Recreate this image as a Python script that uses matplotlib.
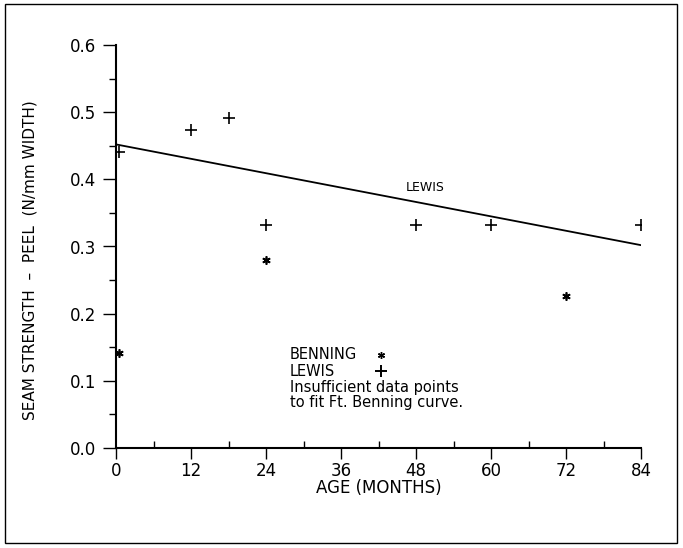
import matplotlib
matplotlib.use("Agg")
import matplotlib.pyplot as plt
from matplotlib.patches import Rectangle

# data
lewis_age = [0.5, 12, 18, 24, 48, 60, 84]
lewis_peel = [0.440, 0.474, 0.492, 0.332, 0.332, 0.332, 0.332]
benning_age = [0.5, 24, 72]
benning_peel = [0.141, 0.280, 0.226]
fit_age = [0, 84]
fit_peel = [0.452, 0.302]

x_ticks = [0, 12, 24, 36, 48, 60, 72, 84]
y_ticks = [0.0, 0.1, 0.2, 0.3, 0.4, 0.5, 0.6]

plt.rcParams["font.family"] = "DejaVu Sans"

fig = plt.figure(figsize=(6.83, 5.48), dpi=100)
ax = fig.add_axes([116 / 683, 1 - 448 / 548, 525 / 683, 403 / 548])

# outer frame of the figure
fig.patches.append(Rectangle((5 / 683, 5 / 548), 672 / 683, 539 / 548,
                             transform=fig.transFigure, fill=False,
                             edgecolor="black", linewidth=1.0))

ax.plot(fit_age, fit_peel, color="black", linewidth=1.3)
ax.plot(lewis_age, lewis_peel, linestyle="none", marker="+",
        markersize=8, markeredgewidth=1.2, color="black")
ax.plot(benning_age, benning_peel, linestyle="none", marker=(6, 2, 0),
        markersize=6, markeredgewidth=1.2, color="black")

ax.text(46.3, 0.388, "LEWIS", fontsize=9, ha="left", va="center")

# key and note
key_size = 10.5
ax.text(0.331, 0.231, "BENNING", transform=ax.transAxes, fontsize=key_size, va="center")
ax.text(0.331, 0.191, "LEWIS", transform=ax.transAxes, fontsize=key_size, va="center")
ax.plot([0.505], [0.231], transform=ax.transAxes, marker=(6, 2, 0),
        markersize=5, markeredgewidth=1.0, color="black", linestyle="none")
ax.plot([0.505], [0.191], transform=ax.transAxes, marker="+",
        markersize=8, markeredgewidth=1.4, color="black", linestyle="none")
ax.text(0.331, 0.151, "Insufficient data points", transform=ax.transAxes,
        fontsize=key_size, va="center")
ax.text(0.331, 0.112, "to fit Ft. Benning curve.", transform=ax.transAxes,
        fontsize=key_size, va="center")

ax.set_xlim(0, 84)
ax.set_ylim(0, 0.6)
ax.set_xticks(x_ticks)
ax.set_xticks(range(6, 84, 12), minor=True)
ax.set_yticks(y_ticks)
ax.set_yticks([0.05, 0.15, 0.25, 0.35, 0.45, 0.55], minor=True)
ax.set_yticklabels(["%.1f" % v for v in y_ticks])

for side in ["top", "right"]:
    ax.spines[side].set_visible(False)
for side in ["left", "bottom"]:
    ax.spines[side].set_linewidth(1.5)

ax.tick_params(axis="y", which="major", length=9.5, width=1.0,
               direction="out", labelsize=12, pad=5)
ax.tick_params(axis="x", which="major", length=8, width=1.0,
               direction="out", labelsize=12, pad=2)
ax.tick_params(axis="y", which="minor", length=5, width=1.0, direction="out")
ax.tick_params(axis="x", which="minor", length=5, width=1.0, direction="in")

ax.set_xlabel("AGE (MONTHS)", fontsize=12)
ax.set_ylabel("SEAM STRENGTH  \u2013  PEEL  (N/mm WIDTH)", fontsize=11)
ax.xaxis.set_label_coords(0.5, -0.078)
ax.yaxis.set_label_coords(-0.15, 0.465)

fig.savefig("out.png", dpi=100)
